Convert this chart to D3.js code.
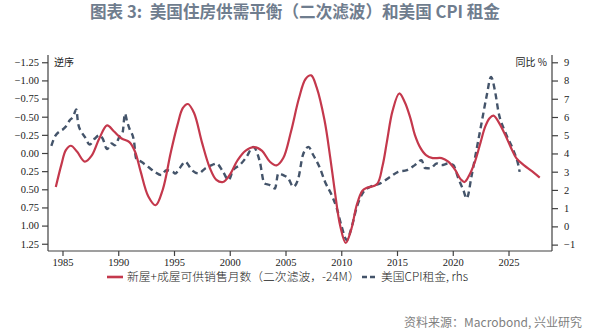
<!DOCTYPE html>
<html>
<head>
<meta charset="utf-8">
<script src="https://cdn.jsdelivr.net/npm/d3@7"></script>
<style>
  html, body { margin: 0; padding: 0; background: #ffffff; }
  svg { display: block; }
  text { white-space: pre; }
  .tick text { font-family: "Liberation Serif", "DejaVu Serif", serif; font-size: 10.5px; fill: #222; }
  .domain, .tick line { stroke: #404040; stroke-width: 1.2; }
</style>
</head>
<body>
<svg id="chart" width="603" height="331"></svg>
<script>
// Months of supply, new + existing homes (double-filtered, lead 24M), reversed, left axis
const supplyYears = [1984.4, 1984.9, 1985.3, 1985.75, 1986.3, 1987.0, 1987.6, 1988.3, 1989.0, 1989.6,
  1990.3, 1991.0, 1991.5, 1992.0, 1992.7, 1993.35, 1994.0, 1994.7, 1995.3, 1995.8,
  1996.25, 1996.8, 1997.5, 1998.2, 1998.8, 1999.4, 2000.0, 2000.7, 2001.4, 2002.2,
  2002.9, 2003.6, 2004.2, 2004.8, 2005.5, 2006.2, 2006.8, 2007.3, 2007.8, 2008.5,
  2009.0, 2009.4, 2009.9, 2010.4, 2010.9, 2011.4, 2011.9, 2012.3, 2013.2, 2013.7,
  2014.1, 2014.6, 2015.2, 2015.7, 2016.2, 2016.6, 2017.1, 2017.6, 2018.2, 2019.0,
  2019.6, 2020.2, 2020.7, 2021.05, 2021.5, 2022.0, 2022.5, 2022.9, 2023.3, 2023.65,
  2024.1, 2024.7, 2025.2, 2025.7, 2026.4, 2027.1, 2027.8];
const supplyValues = [0.47, 0.16, -0.04, -0.10, -0.02, 0.12, 0.04, -0.20, -0.38, -0.30,
  -0.20, -0.15, -0.02, 0.25, 0.60, 0.72, 0.50, 0.00, -0.38, -0.62,
  -0.675, -0.55, -0.15, 0.20, 0.37, 0.40, 0.30, 0.10, -0.03, -0.08,
  -0.03, 0.12, 0.17, 0.07, -0.30, -0.75, -1.02, -1.07, -0.90, -0.45,
  0.05, 0.50, 1.00, 1.24, 1.05, 0.71, 0.52, 0.48, 0.43, 0.18,
  -0.16, -0.58, -0.82, -0.70, -0.48, -0.25, -0.07, 0.03, 0.07, 0.07,
  0.12, 0.23, 0.36, 0.40, 0.30, 0.115, -0.15, -0.36, -0.48, -0.515,
  -0.43, -0.25, -0.08, 0.07, 0.17, 0.25, 0.34];

// US CPI rent of primary residence, YoY %, right axis
const rentYears = [1984.0, 1984.3, 1984.75, 1985.05, 1985.34, 1985.65, 1985.94, 1986.24, 1986.4, 1986.7,
  1987.0, 1987.44, 1987.9, 1988.33, 1988.6, 1989.0, 1989.4, 1989.7, 1990.1, 1990.4,
  1990.6, 1990.8, 1991.0, 1991.4, 1991.6, 1992.07, 1992.67, 1993.27, 1993.86, 1994.3,
  1994.9, 1995.1, 1995.5, 1996.0, 1996.6, 1997.2, 1997.8, 1998.4, 1998.8, 1999.4,
  1999.9, 2000.3, 2000.9, 2001.5, 2002.1, 2002.7, 2003.1, 2003.6, 2004.06, 2004.35,
  2004.8, 2005.25, 2005.7, 2006.15, 2006.55, 2006.75, 2007.05, 2007.5, 2008.1, 2008.54,
  2009.14, 2009.6, 2010.04, 2010.5, 2010.9, 2011.4, 2012.0, 2012.6, 2013.5, 2014.4,
  2015.1, 2015.9, 2016.6, 2017.2, 2017.5, 2018.0, 2018.56, 2019.0, 2019.6, 2020.05,
  2020.5, 2020.95, 2021.25, 2021.7, 2022.15, 2022.6, 2023.05, 2023.43, 2023.8, 2024.1,
  2024.7, 2025.43, 2025.88, 2026.0];
const rentValues = [4.42, 4.91, 5.22, 5.33, 5.51, 5.82, 6.0, 6.41, 5.64, 5.18,
  4.91, 4.49, 4.82, 5.0, 4.82, 4.24, 4.55, 4.45, 4.91, 5.18,
  6.19, 5.73, 5.37, 4.73, 3.73, 3.54, 3.27, 2.99, 2.81, 3.08,
  2.99, 2.9, 3.18, 3.54, 3.09, 2.9, 3.18, 3.36, 3.45, 2.99,
  2.54, 3.09, 3.36, 3.81, 4.36, 3.54, 2.36, 2.26, 2.08, 2.9,
  2.81, 2.63, 2.17, 2.63, 3.9, 4.18, 4.36, 3.9, 3.18, 2.45,
  1.72, 0.99, -0.02, -0.75, -0.11, 1.07, 1.9, 2.17, 2.36, 2.72,
  2.99, 3.09, 3.36, 3.63, 3.2, 3.18, 3.45, 3.36, 3.45, 3.36,
  2.63, 1.99, 1.53, 2.81, 4.27, 5.73, 7.19, 8.2, 7.38, 6.28,
  5.18, 4.18, 3.36, 2.99];

const yearTicks = [1985, 1990, 1995, 2000, 2005, 2010, 2015, 2020, 2025];
const leftTicks = [-1.25, -1.0, -0.75, -0.5, -0.25, 0, 0.25, 0.5, 0.75, 1.0, 1.25];
const rightTicks = [9, 8, 7, 6, 5, 4, 3, 2, 1, 0, -1];

const svg = d3.select("#chart");
const plot = { left: 48, right: 552, top: 55, bottom: 251 };

const x = d3.scaleLinear().domain([1983.7, 2028.9]).range([plot.left, plot.right]);
// left axis is reversed: negative values at the top
const yL = d3.scaleLinear().domain([-1.35, 1.35]).range([plot.top, plot.bottom]);
const yR = d3.scaleLinear().domain([9.4, -1.35]).range([plot.top, plot.bottom]);

// title
svg.append("text")
  .attr("x", 295).attr("y", 18)
  .attr("text-anchor", "middle")
  .attr("font-family", "'Noto Sans CJK SC', 'Noto Sans', sans-serif")
  .attr("font-size", 16.6).attr("font-weight", 600)
  .attr("fill", "#6f7d8e")
  .text("图表 3:  美国住房供需平衡（二次滤波）和美国 CPI 租金");

// axes
svg.append("g")
  .attr("transform", `translate(${plot.left},0)`)
  .call(d3.axisLeft(yL).tickValues(leftTicks).tickSize(6).tickPadding(3)
    .tickFormat(d3.format(".2f")))
  .call(g => g.select(".domain").attr("d", `M0,${plot.top}V${plot.bottom}`));

svg.append("g")
  .attr("transform", `translate(${plot.right},0)`)
  .call(d3.axisRight(yR).tickValues(rightTicks).tickSize(6).tickPadding(6)
    .tickFormat(d3.format("d")))
  .call(g => g.select(".domain").attr("d", `M0,${plot.top}V${plot.bottom}`));

svg.append("g")
  .attr("transform", `translate(0,${plot.bottom})`)
  .call(d3.axisBottom(x).tickValues(yearTicks).tickSize(5).tickPadding(3)
    .tickFormat(d3.format("d")))
  .call(g => g.select(".domain").attr("d", `M${plot.left},0H${plot.right}`));

// axis captions inside the plot
svg.append("text")
  .attr("x", 54).attr("y", 66)
  .attr("font-family", "'Noto Sans CJK SC', sans-serif")
  .attr("font-size", 10).attr("fill", "#222")
  .text("逆序");
svg.append("text")
  .attr("x", 547).attr("y", 66)
  .attr("text-anchor", "end")
  .attr("font-family", "'Noto Sans CJK SC', sans-serif")
  .attr("font-size", 10).attr("fill", "#222")
  .text("同比 %");

// series
const supply = supplyYears.map((t, i) => [t, supplyValues[i]]);
const rent = rentYears.map((t, i) => [t, rentValues[i]]);

svg.append("path")
  .datum(rent)
  .attr("fill", "none")
  .attr("stroke", "#44546a")
  .attr("stroke-width", 2.4)
  .attr("stroke-dasharray", "6,4")
  .attr("d", d3.line().x(d => x(d[0])).y(d => yR(d[1])).curve(d3.curveMonotoneX));

svg.append("path")
  .datum(supply)
  .attr("fill", "none")
  .attr("stroke", "#c4384c")
  .attr("stroke-width", 2.2)
  .attr("d", d3.line().x(d => x(d[0])).y(d => yL(d[1])).curve(d3.curveCatmullRom.alpha(0.5)));

// legend
const legend = svg.append("g")
  .attr("font-family", "'Noto Sans CJK SC', sans-serif")
  .attr("font-size", 11.8).attr("font-weight", 300).attr("fill", "#222");
legend.append("line")
  .attr("x1", 107).attr("x2", 123).attr("y1", 277).attr("y2", 277)
  .attr("stroke", "#c4384c").attr("stroke-width", 2.6);
legend.append("text").attr("x", 127).attr("y", 281)
  .text("新屋+成屋可供销售月数（二次滤波，-24M）");
legend.append("line")
  .attr("x1", 362).attr("x2", 377).attr("y1", 277).attr("y2", 277)
  .attr("stroke", "#44546a").attr("stroke-width", 2.6)
  .attr("stroke-dasharray", "5,3");
legend.append("text").attr("x", 381).attr("y", 281)
  .text("美国CPI租金, rhs");

// source note
svg.append("text")
  .attr("x", 582).attr("y", 327)
  .attr("text-anchor", "end")
  .attr("font-family", "'Noto Sans CJK SC', sans-serif")
  .attr("font-size", 12).attr("fill", "#7f7f7f")
  .text("资料来源：Macrobond, 兴业研究");
</script>
</body>
</html>
